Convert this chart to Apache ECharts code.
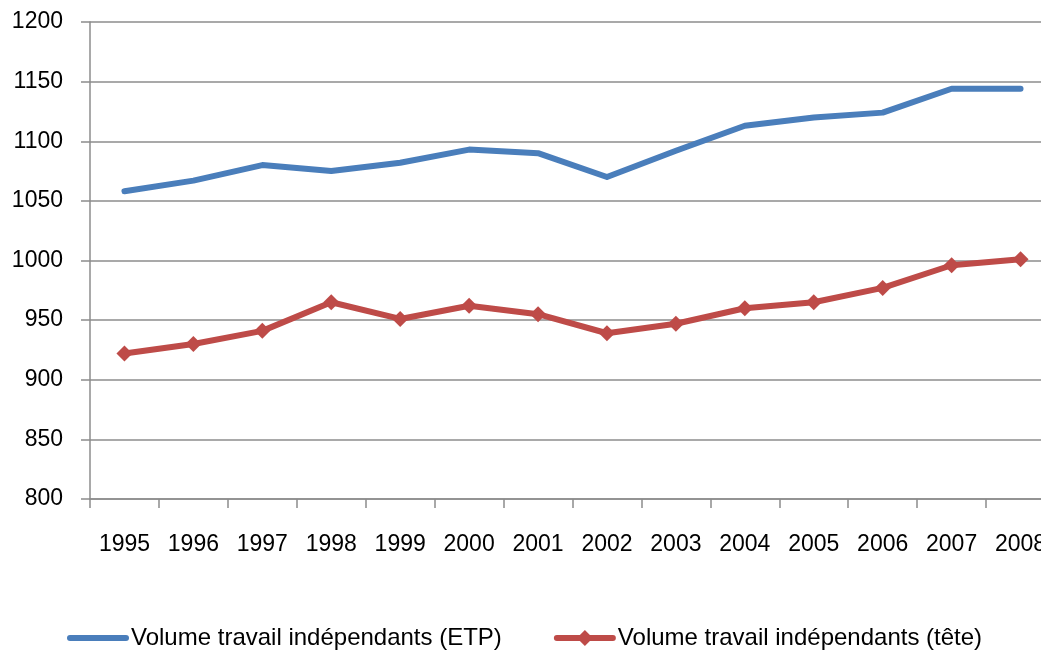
<!DOCTYPE html>
<html>
<head>
<meta charset="utf-8">
<script src="https://cdn.jsdelivr.net/npm/echarts@6/dist/echarts.min.js"></script>
<style>
  html, body { margin: 0; padding: 0; background: #fff; overflow: hidden; }
  /* plot runs past the right edge in the original, so the canvas is wider than the window */
  #chart { width: 1055px; height: 650px; }
</style>
</head>
<body>
<div id="chart"></div>
<script>
const YEARS = ['1995', '1996', '1997', '1998', '1999', '2000', '2001',
               '2002', '2003', '2004', '2005', '2006', '2007', '2008']

// Volume travail indépendants
const ETP  = [1058, 1067, 1080, 1075, 1082, 1093, 1090, 1070, 1092, 1113, 1120, 1124, 1144, 1144]
const TETE = [922, 930, 941, 965, 951, 962, 955, 939, 947, 960, 965, 977, 996, 1001]

const NAME_ETP  = 'Volume travail indépendants (ETP)'
const NAME_TETE = 'Volume travail indépendants (tête)'

const BLUE = '#4a7ebb'
const RED  = '#be4b48'
const GRID = '#8c8c8c'
const FONT = 'Liberation Sans'

const chart = echarts.init(document.getElementById('chart'), null, { renderer: 'canvas' })

chart.setOption({
  backgroundColor: '#fff',
  animation: false,
  textStyle: { fontFamily: FONT },
  grid: { left: 90, right: 0, top: 22, bottom: 151 },
  legend: {
    bottom: -5, left: 62,
    itemWidth: 56, itemHeight: 20, itemGap: 52,
    lineStyle: { width: 6 },
    textStyle: { fontFamily: FONT, fontSize: 24, color: '#000' },
    data: [
      { name: NAME_ETP, itemStyle: { opacity: 0 } },
      { name: NAME_TETE },
    ],
  },
  xAxis: {
    type: 'category', data: YEARS, boundaryGap: true,
    axisLine: { lineStyle: { color: GRID, width: 1.5 } },
    axisTick: { show: true, length: 9, interval: 0, lineStyle: { color: GRID, width: 1.5 } },
    axisLabel: { interval: 0, margin: 34, color: '#000', fontSize: 23, fontFamily: FONT },
  },
  yAxis: {
    type: 'value', min: 800, max: 1200, interval: 50,
    axisLine: { show: true, lineStyle: { color: GRID, width: 1.5 } },
    axisTick: { show: true, length: 9, lineStyle: { color: GRID, width: 1.5 } },
    axisLabel: { margin: 27, color: '#000', fontSize: 23, fontFamily: FONT, formatter: (v) => String(v) },
    splitLine: { lineStyle: { color: GRID, width: 1.5 } },
  },
  series: [
    {
      name: NAME_ETP,
      type: 'line', data: ETP,
      symbol: 'none',
      lineStyle: { color: BLUE, width: 6, cap: 'round', join: 'round' },
      itemStyle: { color: BLUE },
    },
    {
      name: NAME_TETE,
      type: 'line', data: TETE,
      symbol: 'diamond', symbolSize: 16, showAllSymbol: true,
      lineStyle: { color: RED, width: 6, cap: 'round', join: 'round' },
      itemStyle: { color: RED },
    },
  ],
})
</script>
</body>
</html>
